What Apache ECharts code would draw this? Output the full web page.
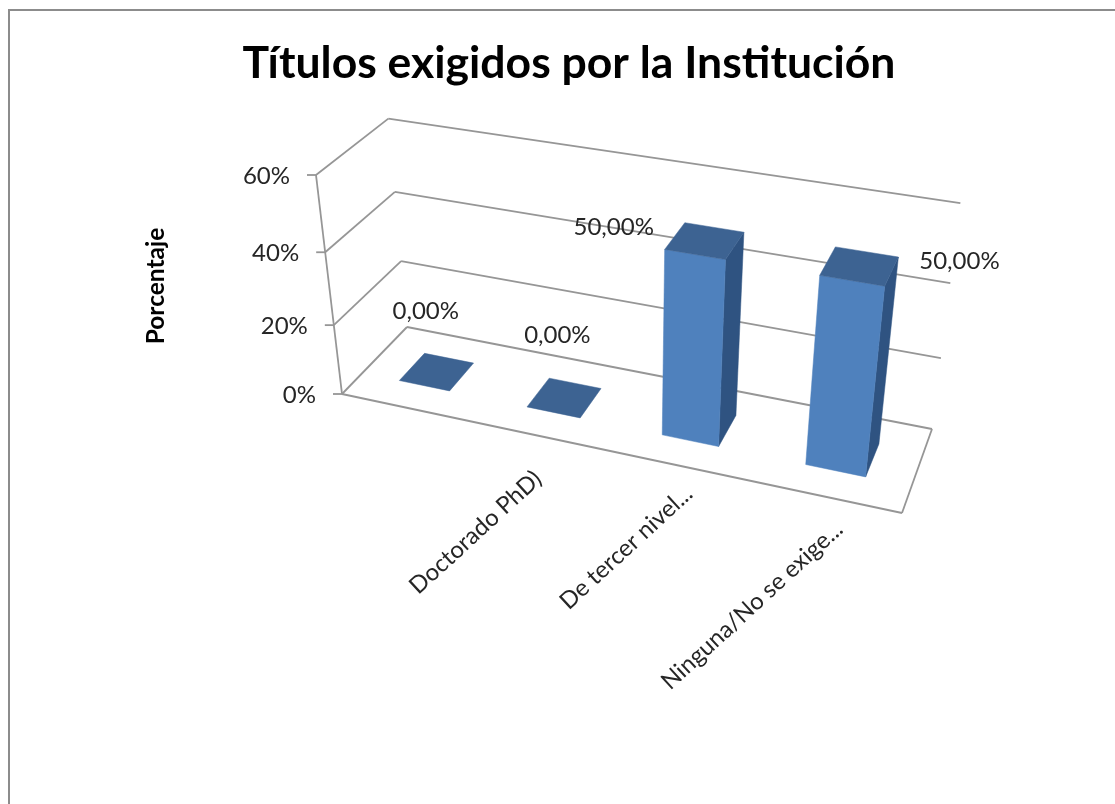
<!DOCTYPE html>
<html>
<head>
<meta charset="utf-8">
<title>Títulos exigidos por la Institución</title>
<script src="https://cdn.jsdelivr.net/npm/echarts@6/dist/echarts.min.js"></script>
<style>
html, body { margin: 0; padding: 0; background: #fff; }
#chart { width: 1115px; height: 804px; }
</style>
</head>
<body>
<div id="chart"></div>
<script>
// data
var chartTitle = 'Títulos exigidos por la Institución';
var yAxisTitle = 'Porcentaje';
var categories = ['', 'Doctorado PhD)', 'De tercer nivel...', 'Ninguna/No se exige...'];
var barValues = [0, 0, 50, 50];
var yTicks = [0, 20, 40, 60];
var yTickLabels = ['0%', '20%', '40%', '60%'];

// floor corners on screen, [front-left, front-right, back-right, back-left]
var floorQuad = [[342, 394], [902, 513], [932, 429], [407, 327]];
var axisTop = [316, 175]; // top of the value axis
var persp = 1.09;         // height foreshortening
var barFrac = 0.4;        // bar width inside its category band
var font = 'Lato';

// hand placement of the labels, relative to their anchor
var dataLabelOffset = [[-11, -60], [-7, -62], [-91, -13], [100, -5]];
var catLabelOffset = [[0, 0], [1.5, 40], [13, 25], [15, 29]];

// 3x4 projective camera built from the floor corners and the axis top
function buildCamera() {
    var q = floorQuad;
    var x0 = q[0][0], x1 = q[1][0], x2 = q[2][0], x3 = q[3][0];
    var y0 = q[0][1], y1 = q[1][1], y2 = q[2][1], y3 = q[3][1];
    var dx1 = x1 - x2, dx2 = x3 - x2, sx = x0 - x1 + x2 - x3;
    var dy1 = y1 - y2, dy2 = y3 - y2, sy = y0 - y1 + y2 - y3;
    var den = dx1 * dy2 - dx2 * dy1;
    var g = (sx * dy2 - dx2 * sy) / den;
    var h = (dx1 * sy - sx * dy1) / den;
    var i = 1 / persp - 1;
    return {
        x: [x1 - x0 + g * x1, x3 - x0 + h * x3, axisTop[0] * (1 + i) - x0, x0],
        y: [y1 - y0 + g * y1, y3 - y0 + h * y3, axisTop[1] * (1 + i) - y0, y0],
        w: [g, h, i, 1]
    };
}
var camera = buildCamera();

// u along the categories, d into the depth, s = height fraction of the value axis
function project(u, d, s) {
    function row(r) {
        return r[0] * u + r[1] * d + r[2] * s + r[3];
    }
    var w = row(camera.w);
    return [row(camera.x) / w, row(camera.y) / w];
}

// library scales -> fractions of the hidden grid
function toFrac(params, api, cat, val) {
    var cs = params.coordSys;
    var p = api.coord([cat, val]);
    return [(p[0] - cs.x) / cs.width, (cs.y + cs.height - p[1]) / cs.height];
}

function line(a, b) {
    return {
        type: 'line',
        shape: {x1: a[0], y1: a[1], x2: b[0], y2: b[1]},
        style: {stroke: '#969696', lineWidth: 1.8}
    };
}

function poly(points, fill) {
    return {type: 'polygon', shape: {points: points}, style: {fill: fill, stroke: fill, lineWidth: 0.5}};
}

function text(str, x, y, size, align, rot) {
    return {
        type: 'text',
        x: x,
        y: y,
        rotation: rot || 0,
        style: {
            text: str, x: 0, y: 0, fill: '#262626', align: align || 'center', verticalAlign: 'middle',
            font: size + 'px ' + font
        }
    };
}

function renderWalls(params, api) {
    var s = toFrac(params, api, 0, api.value(1))[1];
    var kids = [];
    var fl = project(0, 0, s), bl = project(0, 1, s), br = project(1, 1, s);
    kids.push(line(fl, bl), line(bl, br));
    kids.push(line([fl[0] - 9, fl[1]], fl));
    kids.push(text(yTickLabels[params.dataIndex], fl[0] - 26, fl[1] + 1, 24, 'right'));
    if (s === 0) {
        var fr = project(1, 0, 0);
        kids.push(line(fl, fr), line(fr, br));
        kids.push(line(fl, project(0, 0, 1)));
    }
    return {type: 'group', children: kids};
}

function renderBars(params, api) {
    var i = api.value(0), v = api.value(1);
    var f = toFrac(params, api, i, v);
    var half = (api.size([1, 0])[0] / params.coordSys.width) * barFrac / 2;
    var u0 = f[0] - half, u1 = f[0] + half, d0 = 0.3, d1 = 0.7, s = f[1];
    var tfl = project(u0, d0, s), tfr = project(u1, d0, s), tbr = project(u1, d1, s), tbl = project(u0, d1, s);
    var kids = [];
    if (v > 0) {
        var bfl = project(u0, d0, 0), bfr = project(u1, d0, 0), bbr = project(u1, d1, 0);
        kids.push(poly([tfr, tbr, bbr, bfr], '#2f5381'));
        kids.push(poly([tfl, tfr, bfr, bfl], '#4f81bd'));
    }
    kids.push(poly([tfl, tfr, tbr, tbl], '#3d6392'));
    var c = project(f[0], 0.5, s), off = dataLabelOffset[i];
    kids.push(text(v.toFixed(2).replace('.', ',') + '%', c[0] + off[0], c[1] + off[1], 24));
    return {type: 'group', children: kids};
}

function renderCats(params, api) {
    var i = api.value(0);
    if (!categories[i]) {
        return null;
    }
    var f = toFrac(params, api, i, 0);
    var p = project(f[0], 0, 0), off = catLabelOffset[i];
    return text(categories[i], p[0] + off[0], p[1] + off[1], 23.8, 'right', 42.5 * Math.PI / 180);
}

var myChart = echarts.init(document.getElementById('chart'));
myChart.setOption({
    animation: false,
    backgroundColor: '#fff',
    title: {
        text: chartTitle,
        left: 564,
        top: 59,
        textAlign: 'center',
        textVerticalAlign: 'middle',
        textStyle: {fontFamily: font, fontWeight: 'bold', fontSize: 44.5, color: '#000'}
    },
    graphic: [
        {
            type: 'rect',
            shape: {x: 9, y: 10, width: 1200, height: 900},
            style: {fill: 'none', stroke: '#8c8c8c', lineWidth: 2},
            silent: true
        },
        {
            type: 'text',
            x: 156,
            y: 286,
            rotation: Math.PI / 2,
            style: {
                text: yAxisTitle, x: 0, y: 0, align: 'center', verticalAlign: 'middle',
                font: 'bold 24.5px ' + font, fill: '#000'
            }
        }
    ],
    grid: {left: 0, top: 0, width: 1000, height: 600},
    xAxis: {type: 'category', data: categories, show: false},
    yAxis: {type: 'value', min: 0, max: 60, interval: 20, show: false},
    series: [
        {type: 'custom', z: 1, silent: true, renderItem: renderWalls, data: yTicks.map(function (v) { return [0, v]; })},
        {type: 'custom', z: 2, silent: true, renderItem: renderBars, data: barValues.map(function (v, i) { return [i, v]; })},
        {type: 'custom', z: 3, silent: true, renderItem: renderCats, data: categories.map(function (c, i) { return [i, 0]; })}
    ]
});
</script>
</body>
</html>
